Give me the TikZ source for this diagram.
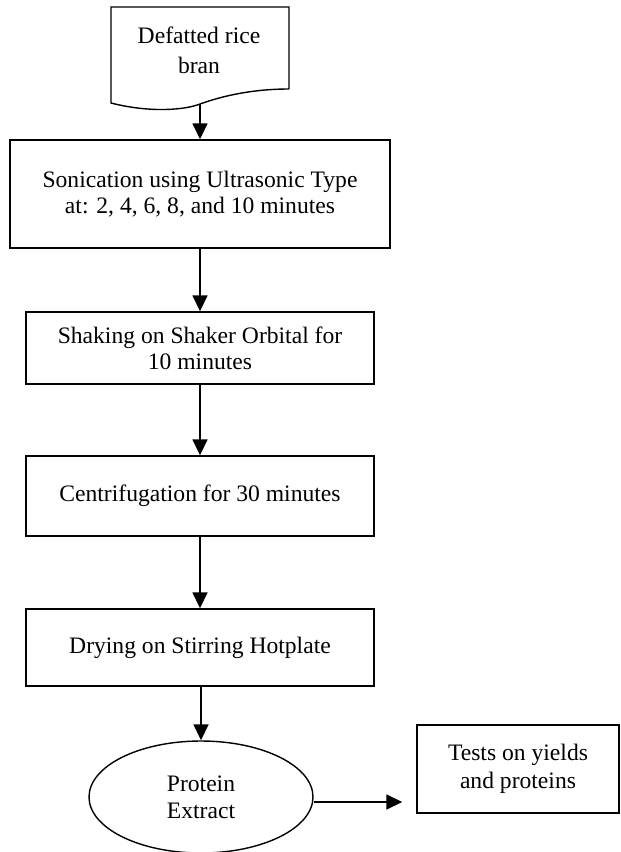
\documentclass[tikz,border=0pt]{standalone}
\usepackage{fontspec}
\setmainfont{Liberation Serif}
\usetikzlibrary{arrows.meta,shapes.geometric}
\begin{document}
\begin{tikzpicture}[x=1pt,y=-1pt,
  box/.style={draw, line width=1.4pt, inner sep=0pt, align=center, font=\fontsize{23.6}{26}\selectfont},
  arr/.style={line width=1.6pt, -{Triangle[width=15pt,length=16pt]}}]
\useasboundingbox (0,0) rectangle (621,852);
% document shape
\draw[line width=1.4pt] (289,89) -- (289,7) -- (111,7) -- (111,103)
  .. controls (150,113) and (185,110) .. (200,104)
  .. controls (225,95) and (255,89) .. (289,89);
\node[align=center, font=\fontsize{23.6}{30}\selectfont] (doc) at (199,50) {Defatted rice\\bran};
\coordinate (docb) at (200,104);
\node[box, minimum width=380pt, minimum height=108pt] (son) at (200,194)
  {Sonication using Ultrasonic Type\\at: 2, 4, 6, 8, and 10 minutes};
\node[box, minimum width=348pt, minimum height=72pt] (sha) at (200,348)
  {Shaking on Shaker Orbital for\\10 minutes};
\node[box, minimum width=348pt, minimum height=80pt] (cen) at (200,496)
  {Centrifugation for 30 minutes};
\node[box, minimum width=348pt, minimum height=77pt] (dry) at (200,647.5)
  {Drying on Stirring Hotplate};
\node[box, ellipse, minimum width=224pt, minimum height=112pt, font=\fontsize{23.6}{27}\selectfont] (ext) at (201,797)
  {Protein\\Extract};
\node[box, minimum width=202pt, minimum height=88pt, font=\fontsize{23.6}{28}\selectfont] (tst) at (518,769)
  {Tests on yields\\and proteins};
\draw[arr] (docb) -- (son.north);
\draw[arr] (son.south) -- (sha.north);
\draw[arr] (sha.south) -- (cen.north);
\draw[arr] (cen.south) -- (dry.north);
\draw[arr] (dry.south -| ext.north) -- (ext.north);
\draw[arr, shorten >=14pt] ([yshift=-5pt]ext.east) -- ([yshift=-5pt]ext.east -| tst.west);
\end{tikzpicture}
\end{document}
